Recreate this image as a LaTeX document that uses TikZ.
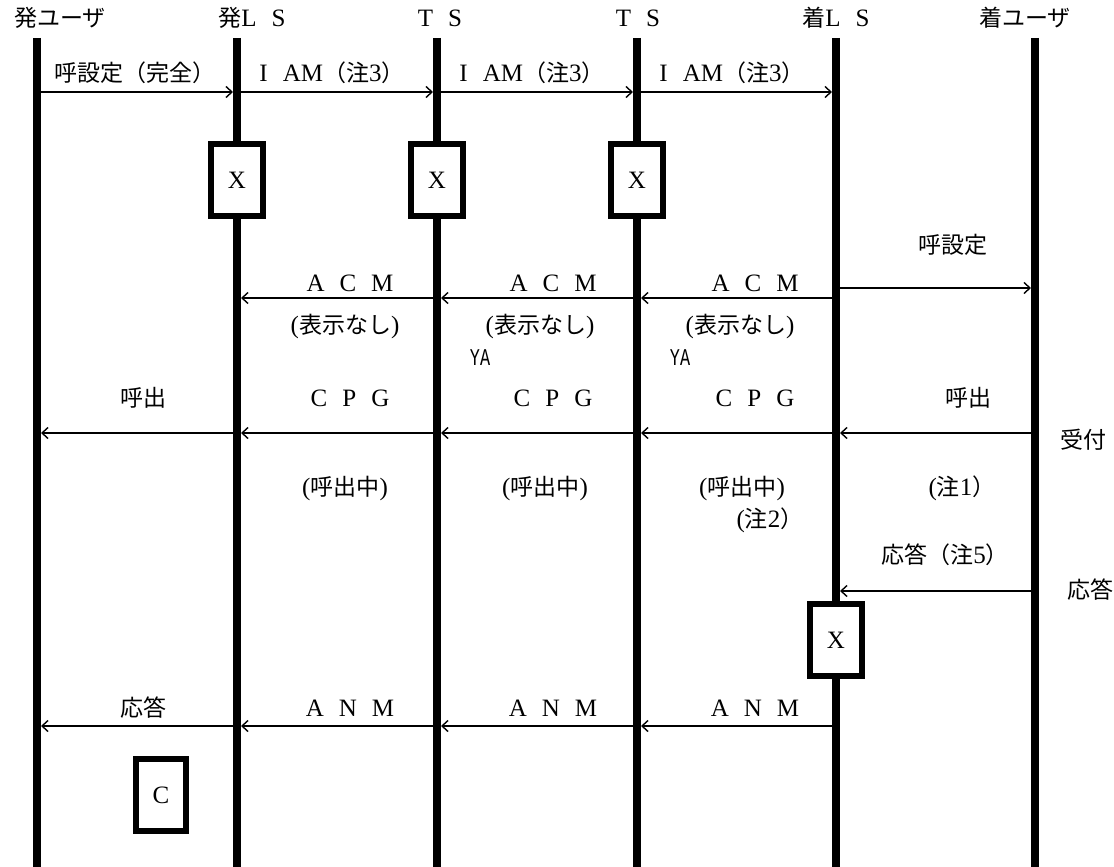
\documentclass[tikz,border=0pt]{standalone}
\usepackage{fontspec}
\setmainfont{Liberation Serif}
\setmonofont{Liberation Mono}
\newfontfamily\jp{Noto Sans CJK JP}[Scale=0.92]
\usepackage{graphicx}
\usepackage{tikz}
\usetikzlibrary{arrows.meta,positioning}

\newcommand{\gap}{\hspace{0.6em}}
\newcommand{\ja}[1]{{\jp #1}}

\begin{document}
\begin{tikzpicture}[
    x=1pt, y=-1pt,
    every node/.style={font=\fontsize{25}{27}\selectfont, inner sep=0pt},
    life/.style={line width=8pt},
    line/.style={draw, line width=1.4pt, -{Straight Barb[length=6pt,width=11pt]}, shorten >=4pt, shorten <=4pt},
    proc/.style={rectangle, draw, line width=6pt, fill=white, minimum width=52pt, minimum height=72pt},
    ya/.style={font=\ttfamily\fontsize{24}{26}\selectfont}
]
    \useasboundingbox (0,0) rectangle (1114,867);

    % points on the lifelines
    \foreach \n/\x in {ou/37, ols/237, ts1/437, ts2/637, tls/836, tu/1035} {
        \coordinate (\n-top) at (\x,38);
        \coordinate (\n-bot) at (\x,867);
        \foreach \r/\y in {iam/92, setup/288, acm/298, cpg/433, ans/591, anm/726}
            \coordinate (\n-\r) at (\x,\y);
    }

    % heads
    \node (ou)  at (60,18)   {\ja{発ユーザ}};
    \node (ols) at (252,18)  {\ja{発}L\gap S};
    \node (ts1) at (440,18)  {T\gap S};
    \node (ts2) at (638,18)  {T\gap S};
    \node (tls) at (836,18)  {\ja{着}L\gap S};
    \node (tu)  at (1025,18) {\ja{着ユーザ}};

    \foreach \n in {ou, ols, ts1, ts2, tls, tu}
        \draw [life] (\n-top) -- (\n-bot);

    % IAM
    \path [line] (ou-iam) -- (ols-iam);
    \path [line] (ols-iam) -- (ts1-iam);
    \path [line] (ts1-iam) -- (ts2-iam);
    \path [line] (ts2-iam) -- (tls-iam);
    \node at (135,73) {\ja{呼設定（完全）}};
    \node at (332,73) {I\gap AM\ja{（注}3\ja{）}};
    \node at (532,73) {I\gap AM\ja{（注}3\ja{）}};
    \node at (732,73) {I\gap AM\ja{（注}3\ja{）}};

    \node [proc] (x1) at (237,180) {X};
    \node [proc] (x2) at (437,180) {X};
    \node [proc] (x3) at (637,180) {X};

    % ACM
    \path [line] (tls-setup) -- (tu-setup);
    \node at (953,245) {\ja{呼設定}};
    \path [line] (tls-acm) -- (ts2-acm);
    \path [line] (ts2-acm) -- (ts1-acm);
    \path [line] (ts1-acm) -- (ols-acm);
    \node at (350,283) {A\gap C\gap M};
    \node at (553,283) {A\gap C\gap M};
    \node at (755,283) {A\gap C\gap M};
    \node at (345,326) {(\ja{表示なし})};
    \node at (540,326) {(\ja{表示なし})};
    \node at (740,326) {(\ja{表示なし})};
    \node [ya] at (480,358) {\scalebox{0.7}[1]{YA}};
    \node [ya] at (680,358) {\scalebox{0.7}[1]{YA}};

    % CPG
    \path [line] (tu-cpg) -- (tls-cpg);
    \path [line] (tls-cpg) -- (ts2-cpg);
    \path [line] (ts2-cpg) -- (ts1-cpg);
    \path [line] (ts1-cpg) -- (ols-cpg);
    \path [line] (ols-cpg) -- (ou-cpg);
    \node at (143,398) {\ja{呼出}};
    \node at (350,398) {C\gap P\gap G};
    \node at (553,398) {C\gap P\gap G};
    \node at (755,398) {C\gap P\gap G};
    \node at (968,398) {\ja{呼出}};
    \node at (1083,440) {\ja{受付}};
    \node at (345,488) {(\ja{呼出中})};
    \node at (545,488) {(\ja{呼出中})};
    \node at (742,488) {(\ja{呼出中})};
    \node at (962,488) {(\ja{注}1\ja{）}};
    \node at (770,520) {(\ja{注}2\ja{）}};

    % answer
    \node at (945,555) {\ja{応答（注}5\ja{）}};
    \path [line] (tu-ans) -- (tls-ans);
    \node at (1090,590) {\ja{応答}};
    \node [proc] (x4) at (836,640) {X};

    % ANM
    \path [line] (tls-anm) -- (ts2-anm);
    \path [line] (ts2-anm) -- (ts1-anm);
    \path [line] (ts1-anm) -- (ols-anm);
    \path [line] (ols-anm) -- (ou-anm);
    \node at (143,708) {\ja{応答}};
    \node at (350,708) {A\gap N\gap M};
    \node at (553,708) {A\gap N\gap M};
    \node at (755,708) {A\gap N\gap M};

    \node [proc, minimum width=50pt] (c1) at (161,795) {C};
\end{tikzpicture}
\end{document}
